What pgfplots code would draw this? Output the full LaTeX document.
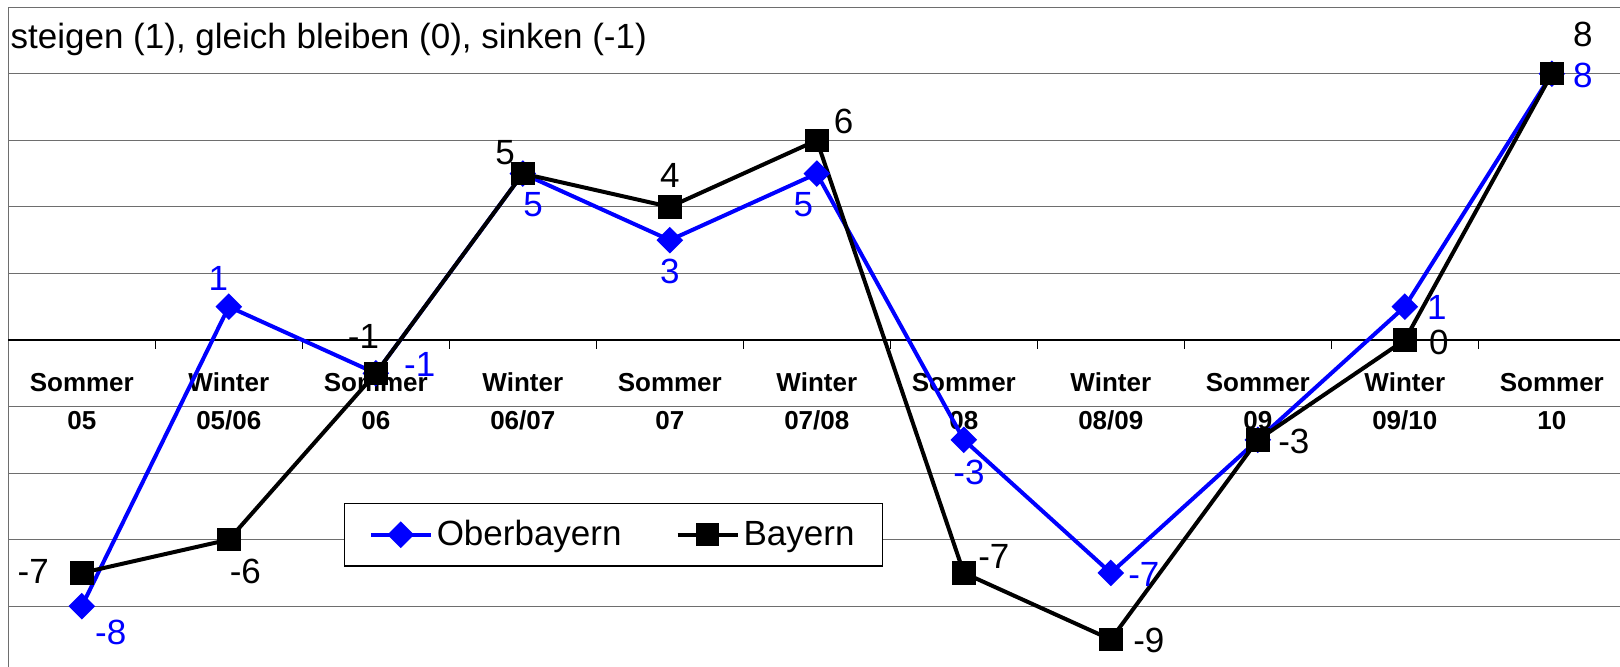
\documentclass[border=0pt]{standalone}
\usepackage{pgfplots}
\pgfplotsset{compat=1.18}
\usepackage{fontspec}
\setmainfont{Liberation Sans}
\definecolor{obb}{RGB}{0,0,255}
\definecolor{gridgray}{RGB}{110,110,110}
\newcommand{\cat}[3]{%
  \node[font=\bfseries\fontsize{13}{15}\selectfont, anchor=base, inner sep=0pt, yshift=-25.6pt] at (axis cs:#1,0) {#2};
  \node[font=\bfseries\fontsize{13}{15}\selectfont, anchor=base, inner sep=0pt, yshift=-45pt] at (axis cs:#1,0) {#3};}
\newcommand{\lbl}[5]{%
  \node[text=#5, font=\fontsize{17.5}{21}\selectfont, inner sep=0pt, xshift=#3, yshift=#4] at (axis cs:#1) {#2};}
\begin{document}
\begin{tikzpicture}
\begin{axis}[
  scale only axis,
  width=808.5pt, height=332.8pt,
  xmin=-0.5, xmax=10.5, ymin=-10, ymax=10,
  axis line style={draw=none},
  xtick=\empty,
  ytick={-8,-6,-4,-2,2,4,6,8,10},
  yticklabels={},
  major tick length=0pt,
  ymajorgrids,
  grid style={gridgray, line width=0.5pt},
  clip=false,
  legend style={at={(0.2077,0.2551)}, anchor=north west, draw=black, line width=0.6pt, fill=white,
    font=\fontsize{17.5}{21}\selectfont, legend columns=2, inner xsep=12pt, inner ysep=6.5pt,
    /tikz/every even column/.append style={column sep=25pt}},
  legend cell align=left,
  legend image code/.code={\draw[mark repeat=2,mark phase=2,#1] plot coordinates {(0pt,0pt) (15pt,0pt) (30pt,0pt)};},
]
\coordinate (tl) at (axis cs:-0.5,10);
\draw[gridgray, line width=0.6pt] (axis cs:-0.5,-10) -- (axis cs:-0.5,10);
\draw[black, line width=0.6pt] (axis cs:-0.5,0) -- (axis cs:10.5,0);
\draw[black, line width=0.6pt] (axis cs:0.5,0) -- ++(0pt,-4.5pt);
\draw[black, line width=0.6pt] (axis cs:1.5,0) -- ++(0pt,-4.5pt);
\draw[black, line width=0.6pt] (axis cs:2.5,0) -- ++(0pt,-4.5pt);
\draw[black, line width=0.6pt] (axis cs:3.5,0) -- ++(0pt,-4.5pt);
\draw[black, line width=0.6pt] (axis cs:4.5,0) -- ++(0pt,-4.5pt);
\draw[black, line width=0.6pt] (axis cs:5.5,0) -- ++(0pt,-4.5pt);
\draw[black, line width=0.6pt] (axis cs:6.5,0) -- ++(0pt,-4.5pt);
\draw[black, line width=0.6pt] (axis cs:7.5,0) -- ++(0pt,-4.5pt);
\draw[black, line width=0.6pt] (axis cs:8.5,0) -- ++(0pt,-4.5pt);
\draw[black, line width=0.6pt] (axis cs:9.5,0) -- ++(0pt,-4.5pt);
\cat{0}{Sommer}{05}
\cat{1}{Winter}{05/06}
\cat{2}{Sommer}{06}
\cat{3}{Winter}{06/07}
\cat{4}{Sommer}{07}
\cat{5}{Winter}{07/08}
\cat{6}{Sommer}{08}
\cat{7}{Winter}{08/09}
\cat{8}{Sommer}{09}
\cat{9}{Winter}{09/10}
\cat{10}{Sommer}{10}
\node[anchor=base west, font=\fontsize{17.5}{21}\selectfont, inner sep=0pt, xshift=1pt, yshift=-20.7pt] at (axis cs:-0.5,10) {steigen (1), gleich bleiben (0), sinken (-1)};
\addplot[obb, line width=2pt, mark=square*, mark size=3.7pt, mark options={rotate=45, solid}]
  coordinates {(0,-8) (1,1) (2,-1) (3,5) (4,3) (5,5) (6,-3) (7,-7) (8,-3) (9,1) (10,8)};
\addlegendentry{Oberbayern}
\addplot[black, line width=2pt, mark=square*, mark size=4.85pt, mark options={solid}]
  coordinates {(0,-7) (1,-6) (2,-1) (3,5) (4,4) (5,6) (6,-7) (7,-9) (8,-3) (9,0) (10,8)};
\addlegendentry{Bayern}
\lbl{0,-8}{-8}{14.5pt}{-12.9pt}{obb}
\lbl{1,1}{1}{-5.2pt}{14pt}{obb}
\lbl{2,-1}{-1}{22pt}{4.6pt}{obb}
\lbl{3,5}{5}{5.2pt}{-15.5pt}{obb}
\lbl{4,3}{3}{0pt}{-15.5pt}{obb}
\lbl{5,5}{5}{-6.7pt}{-15.5pt}{obb}
\lbl{6,-3}{-3}{2.6pt}{-16.5pt}{obb}
\lbl{7,-7}{-7}{16.5pt}{-1pt}{obb}
\lbl{9,1}{1}{16pt}{-0.5pt}{obb}
\lbl{10,8}{8}{15.5pt}{-1pt}{obb}
\lbl{0,-7}{-7}{-24.3pt}{0.5pt}{black}
\lbl{1,-6}{-6}{8.3pt}{-16pt}{black}
\lbl{2,-1}{-1}{-6.2pt}{18.6pt}{black}
\lbl{3,5}{5}{-8.8pt}{10.3pt}{black}
\lbl{4,4}{4}{0pt}{15.5pt}{black}
\lbl{5,6}{6}{13.4pt}{9.3pt}{black}
\lbl{6,-7}{-7}{15pt}{8.3pt}{black}
\lbl{7,-9}{-9}{19pt}{-0.5pt}{black}
\lbl{8,-3}{-3}{18pt}{-1pt}{black}
\lbl{9,0}{0}{17pt}{-1pt}{black}
\lbl{10,8}{8}{15.5pt}{19.6pt}{black}
\end{axis}
\pgfresetboundingbox
\path[use as bounding box] ([xshift=-4.15pt,yshift=3.6pt]tl) rectangle ([xshift=805.85pt,yshift=-329.9pt]tl);
\end{tikzpicture}
\end{document}
